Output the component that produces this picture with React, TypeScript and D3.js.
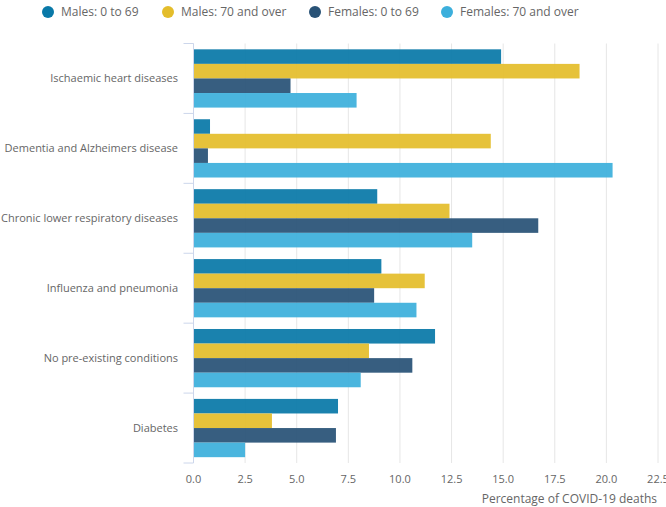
import React, { useEffect, useRef } from 'react';
import * as d3 from 'd3';

const categories = [
  'Ischaemic heart diseases',
  'Dementia and Alzheimers disease',
  'Chronic lower respiratory diseases',
  'Influenza and pneumonia',
  'No pre-existing conditions',
  'Diabetes',
];

const seriesNames = ['Males: 0 to 69', 'Males: 70 and over', 'Females: 0 to 69', 'Females: 70 and over'];
const seriesColors = ['#0979a8', '#e4bd2b', '#285276', '#3cafdc'];

const males0to69 = [14.9, 0.8, 8.9, 9.1, 11.7, 7.0];
const males70over = [18.7, 14.4, 12.4, 11.2, 8.5, 3.8];
const females0to69 = [4.7, 0.7, 16.7, 8.75, 10.6, 6.9];
const females70over = [7.9, 20.3, 13.5, 10.8, 8.1, 2.5];

const xTicks = [0, 2.5, 5, 7.5, 10, 12.5, 15, 17.5, 20, 22.5];

const App: React.FC = () => {
  const svgRef = useRef<SVGSVGElement>(null);

  useEffect(() => {
    if (!svgRef.current) return;
    const width = 666;
    const height = 507;
    const plot = { left: 193.5, right: 658, top: 43.5, bottom: 463 };
    const font = '"Open Sans", sans-serif';
    const textColor = '#666666';

    const series = [males0to69, males70over, females0to69, females70over];

    const svg = d3.select(svgRef.current);
    svg.selectAll('*').remove();
    svg.attr('width', width).attr('height', height);

    const x = d3.scaleLinear().domain([0, 22.5]).range([plot.left, plot.right]);
    const y = d3.scaleBand<string>().domain(categories).range([plot.top, plot.bottom]);
    const inner = d3.scaleBand<number>()
      .domain(d3.range(series.length))
      .range([0, y.bandwidth()])
      .paddingOuter(0.4);

    // Grid lines
    svg.append('g')
      .selectAll('line')
      .data(xTicks)
      .join('line')
      .attr('x1', d => x(d)).attr('x2', d => x(d))
      .attr('y1', plot.top).attr('y2', plot.bottom)
      .attr('stroke', '#e6e6e6')
      .attr('stroke-width', 1);

    // Bars
    const groups = svg.append('g')
      .selectAll('g')
      .data(categories)
      .join('g')
      .attr('transform', d => `translate(0,${y(d)})`);

    groups.selectAll('rect')
      .data((_, ci) => series.map((s, si) => ({ si, v: s[ci] })))
      .join('rect')
      .attr('x', x(0))
      .attr('y', d => inner(d.si)!)
      .attr('height', inner.bandwidth())
      .attr('width', d => x(d.v) - x(0))
      .attr('fill', d => seriesColors[d.si])
      .attr('fill-opacity', 0.93);

    // Y axis line and ticks
    svg.append('line')
      .attr('x1', plot.left).attr('x2', plot.left)
      .attr('y1', plot.top).attr('y2', plot.bottom)
      .attr('stroke', '#ccd6eb');

    const bounds = categories.map(c => y(c)!).concat([plot.bottom]);
    svg.append('g')
      .selectAll('line')
      .data(bounds)
      .join('line')
      .attr('x1', plot.left - 10).attr('x2', plot.left)
      .attr('y1', d => d).attr('y2', d => d)
      .attr('stroke', '#ccd6eb');

    // Category labels
    svg.append('g')
      .selectAll('text')
      .data(categories)
      .join('text')
      .attr('x', 178)
      .attr('y', d => y(d)! + y.bandwidth() / 2)
      .attr('dy', '0.35em')
      .attr('text-anchor', 'end')
      .attr('font-family', font)
      .attr('font-size', 11)
      .attr('fill', textColor)
      .text(d => d);

    // X tick labels
    svg.append('g')
      .selectAll('text')
      .data(xTicks)
      .join('text')
      .attr('x', d => x(d))
      .attr('y', 483)
      .attr('text-anchor', 'middle')
      .attr('font-family', font)
      .attr('font-size', 11)
      .attr('fill', textColor)
      .text(d => d3.format('.1f')(d));

    // Axis title
    svg.append('text')
      .attr('x', 657)
      .attr('y', 503)
      .attr('text-anchor', 'end')
      .attr('font-family', font)
      .attr('font-size', 12)
      .attr('fill', textColor)
      .text('Percentage of COVID-19 deaths');

    // Legend
    const legendX = [48, 168, 315, 447];
    const legend = svg.append('g')
      .selectAll('g')
      .data(seriesNames)
      .join('g')
      .attr('transform', (_, i) => `translate(${legendX[i]},12)`);

    legend.append('circle')
      .attr('r', 6)
      .attr('fill', (_, i) => seriesColors[i]);

    legend.append('text')
      .attr('x', 13)
      .attr('dy', '0.35em')
      .attr('font-family', font)
      .attr('font-size', 12)
      .attr('fill', textColor)
      .text(d => d);
  }, []);

  return (
    <div style={{ position: 'absolute', left: 0, top: 0 }}>
      <svg ref={svgRef} style={{ display: 'block' }} />
    </div>
  );
};

export default App;
